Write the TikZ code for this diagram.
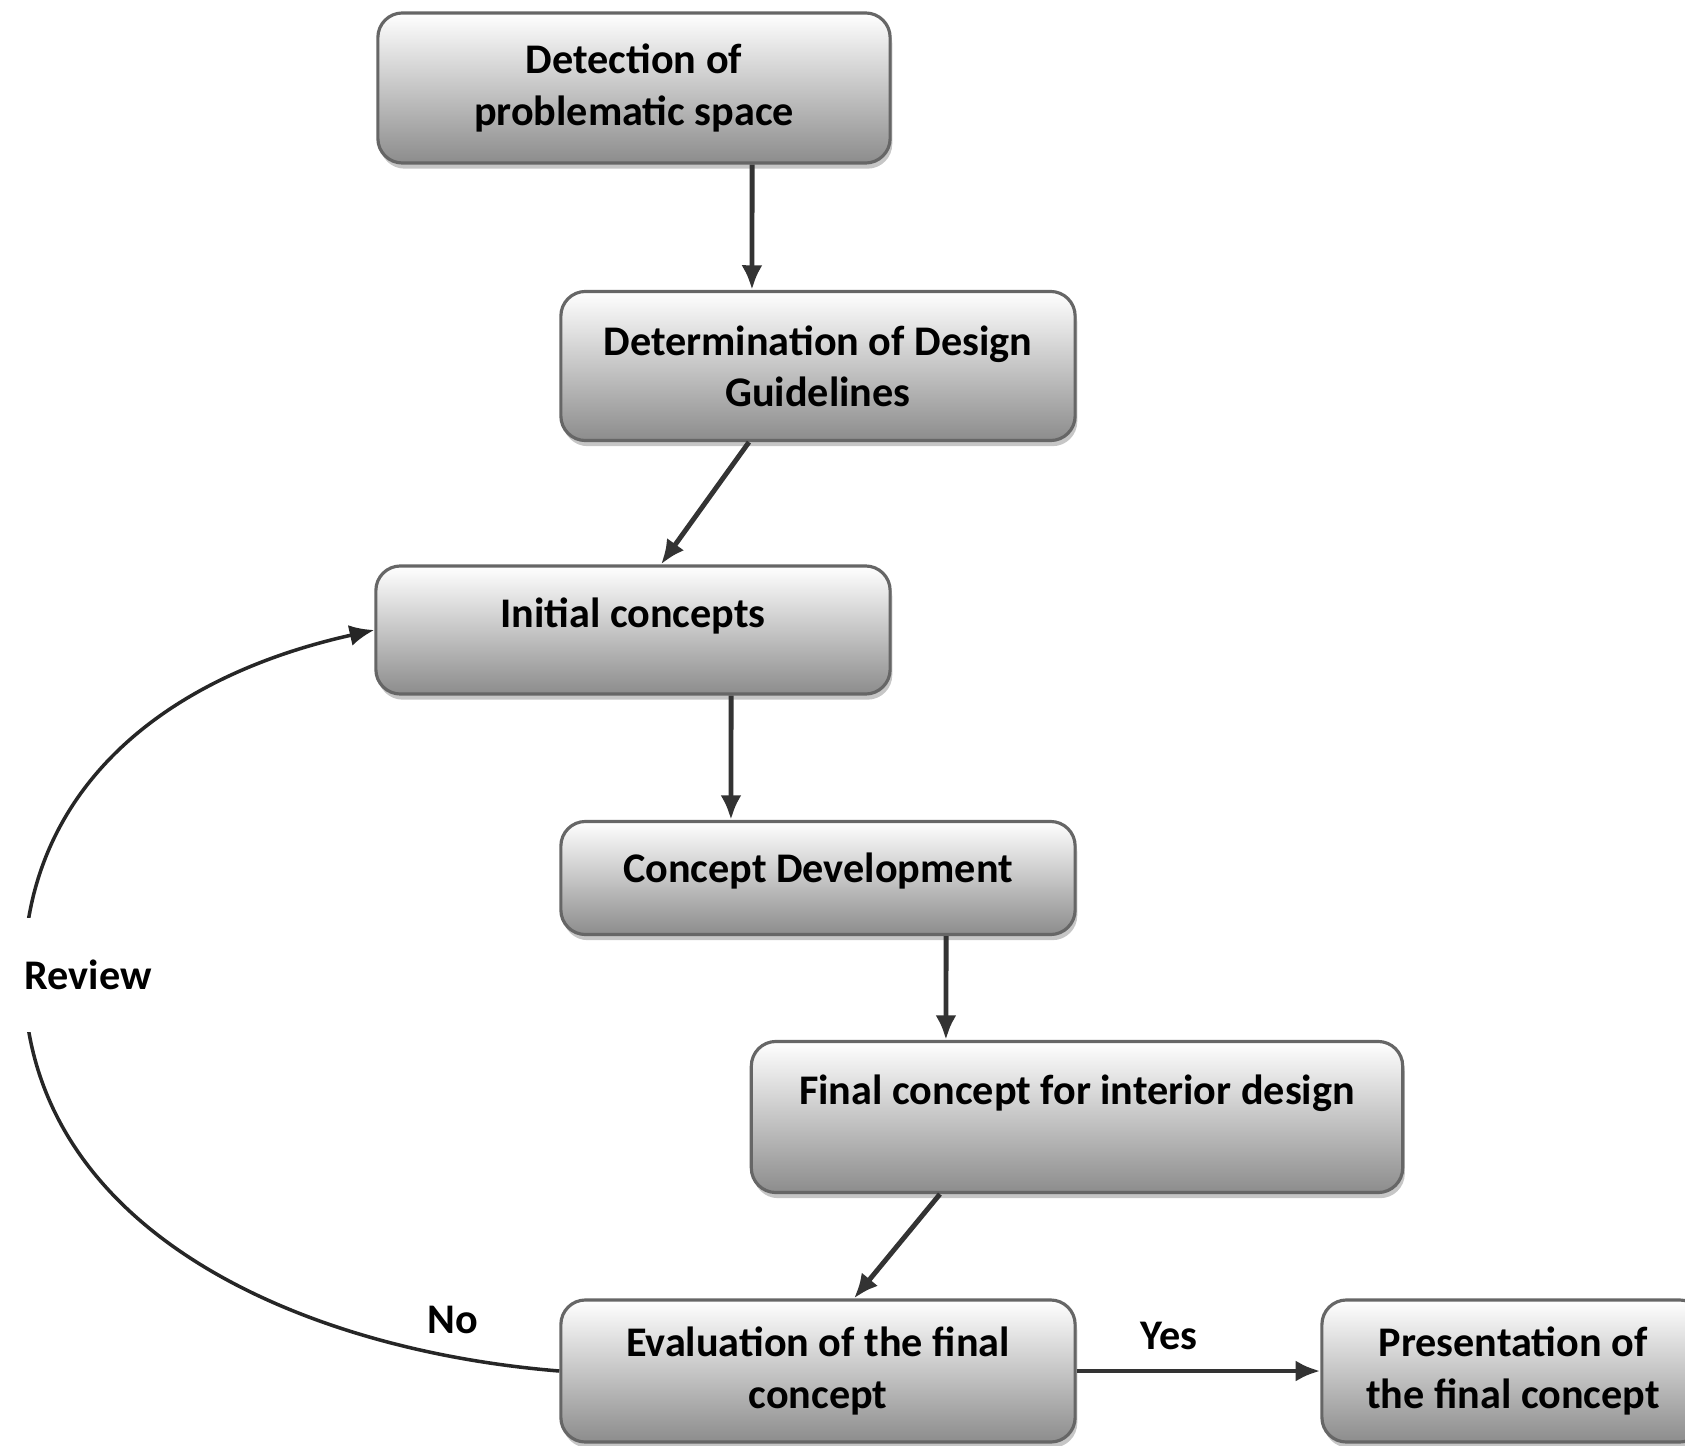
\documentclass[tikz,border=0pt]{standalone}
\usepackage{fontspec}
\setmainfont{Carlito}
\usetikzlibrary{shadows,arrows.meta}
\tikzset{
  stage/.style={draw=black!60,line width=0.9pt,rounded corners=7pt,
    top color=white,bottom color=black!45,align=center,
    font=\bfseries\fontsize{12}{14.6}\selectfont,
    drop shadow={shadow xshift=0.6pt,shadow yshift=-1.6pt,opacity=0.45}},
  flow/.style={->,draw=black!80,line width=1.4pt},
  tag/.style={font=\bfseries\fontsize{12}{14.6}\selectfont}
}
\begin{document}
\begin{tikzpicture}[>={Latex[length=7pt,width=6pt]},x=0.01cm,y=0.01cm]
	\useasboundingbox (0,0) rectangle (1685,-1446);
	% stages of the process
	\node[stage,minimum width=5.12cm,minimum height=1.5cm] (detect) at (634,-88) {Detection of\\problematic space};
	\node[stage,minimum width=5.14cm,minimum height=1.49cm] (guide) at (818,-366) {Determination of Design\\Guidelines};
	\node[stage,minimum width=5.14cm,minimum height=1.28cm,text depth=0.35cm] (initial) at (633,-630) {Initial concepts};
	\node[stage,minimum width=5.14cm,minimum height=1.13cm,text depth=0.2cm] (develop) at (818,-878) {Concept Development};
	\node[stage,minimum width=6.51cm,minimum height=1.51cm,text depth=0.55cm] (final) at (1077,-1117) {Final concept for interior design};
	\node[stage,minimum width=5.14cm,minimum height=1.42cm] (eval) at (818,-1371) {Evaluation of the final\\concept};
	\node[stage,minimum width=3.82cm,minimum height=1.42cm] (present) at (1513,-1371) {Presentation of\\the final concept};
	% arrows
	\draw[flow] ([xshift=1.18cm]detect.south) -- ([xshift=-0.66cm]guide.north);
	\draw[flow] ([xshift=-0.69cm]guide.south) -- ([xshift=0.28cm]initial.north);
	\draw[flow] ([xshift=0.98cm]initial.south) -- ([xshift=-0.87cm]develop.north);
	\draw[flow] ([xshift=1.28cm]develop.south) -- ([xshift=-1.31cm]final.north);
	\draw[flow] ([xshift=-1.37cm]final.south) -- ([xshift=0.36cm]eval.north);
	\draw[flow] (eval.east) -- (present.west);
	% review loop
	\coordinate (rv) at (24,-975);
	\draw[->,draw=black!85,line width=1pt] (eval.west) .. controls (300,-1350) and (24,-1230) .. (rv)
		.. controls (24,-800) and (150,-680) .. (initial.west);
	\node[tag,fill=white,anchor=west,inner xsep=0.06cm,inner ysep=0.42cm,xshift=-0.06cm] (review) at (rv) {Review};
	\node[tag] (no) at (453,-1320) {No};
	\node[tag] (yes) at (1169,-1336) {Yes};
\end{tikzpicture}
\end{document}
